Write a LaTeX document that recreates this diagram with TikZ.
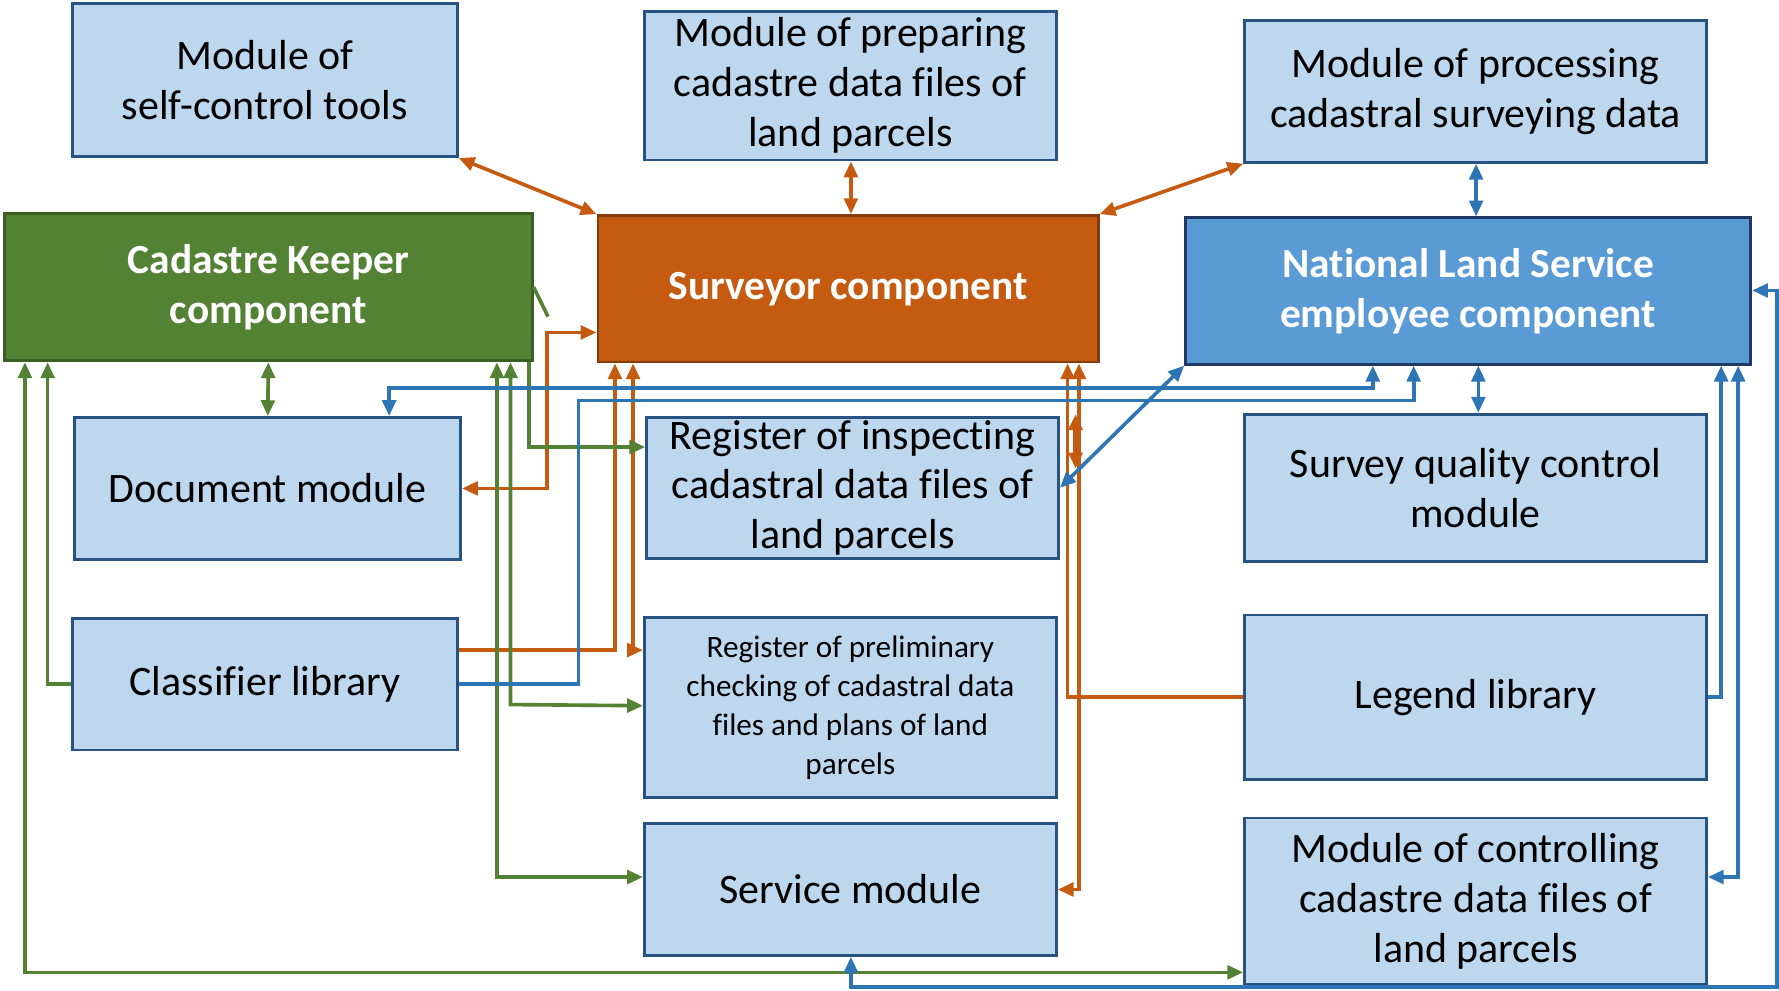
\documentclass[tikz,border=0pt]{standalone}
\usepackage{fontspec}
\setmainfont{Carlito}[Ligatures=NoCommon]
\usetikzlibrary{arrows.meta,calc}
\definecolor{lb}{HTML}{BDD7EE}
\definecolor{bdr}{RGB}{40,82,130}
\definecolor{gfill}{HTML}{548235}
\definecolor{gbdr}{HTML}{3B5E24}
\definecolor{ofill}{HTML}{C55A11}
\definecolor{obdr}{HTML}{843C0C}
\definecolor{nfill}{HTML}{5B9BD5}
\definecolor{nbdr}{HTML}{1F3864}
\definecolor{oline}{HTML}{C55A11}
\definecolor{gline}{HTML}{548235}
\definecolor{bline}{HTML}{2E75B6}
\begin{document}
\begin{tikzpicture}[x=1pt,y=-1pt,
  >={Triangle[length=14pt,width=12pt]},
  box/.style={draw=bdr,fill=lb,line width=2.5pt,align=center,inner sep=0pt,
    font=\fontsize{37}{44}\selectfont},
  comp/.style={line width=2.5pt,align=center,inner sep=0pt,text=white,
    font=\bfseries\fontsize{36.5}{44}\selectfont},
  oc/.style={draw=oline,line width=3.2pt},
  gc/.style={draw=gline,line width=3.2pt},
  bc/.style={draw=bline,line width=3.2pt}]
\useasboundingbox (0,0) rectangle (1568,873);
% boxes
\node[box,minimum width=339pt,minimum height=135pt] (sc) at (233.5,70.5) {Module of\\self-control tools};
\node[box,minimum width=363pt,minimum height=131pt] (prep) at (749.5,75.5) {Module of preparing\\cadastre data files of\\land parcels};
\node[box,minimum width=407pt,minimum height=125pt] (proc) at (1300.5,80.5) {Module of processing\\cadastral surveying data};
\node[comp,draw=gbdr,fill=gfill,minimum width=465pt,minimum height=130pt] (ck) at (236.5,253) {Cadastre Keeper\\component};
\node[comp,draw=obdr,fill=ofill,minimum width=441pt,minimum height=129pt] (sv) at (747.5,254.5) {Surveyor component};
\node[comp,draw=nbdr,fill=nfill,minimum width=498pt,minimum height=129pt] (nls) at (1294,256.5) {National Land Service\\employee component};
\node[box,minimum width=340pt,minimum height=125pt] (doc) at (236,430.5) {Document module};
\node[box,minimum width=363pt,minimum height=124pt] (insp) at (751.5,430) {Register of inspecting\\cadastral data files of\\land parcels};
\node[box,minimum width=407pt,minimum height=130pt] (sqc) at (1300.5,430) {Survey quality control\\module};
\node[box,minimum width=339pt,minimum height=116pt] (cls) at (233.5,603) {Classifier library};
\node[box,minimum width=363pt,minimum height=159pt,font=\fontsize{27.5}{34.5}\selectfont] (pre) at (749.5,623.5) {Register of preliminary\\checking of cadastral data\\files and plans of land\\parcels};
\node[box,minimum width=407pt,minimum height=145pt] (leg) at (1300.5,614.5) {Legend library};
\node[box,minimum width=363pt,minimum height=116pt] (svc) at (749.5,784) {Service module};
\node[box,minimum width=407pt,minimum height=147pt] (ctl) at (1300.5,794.5) {Module of controlling\\cadastre data files of\\land parcels};
% orange connectors
\draw[oc,<->] (sc.south east) -- (sv.north west);
\draw[oc,<->] (750,0 |- prep.south) -- (750,0 |- sv.north);
\draw[oc,<->] (proc.south west) -- (sv.north east);
\draw[oc,<->] (doc.east) -- (482,430.5) -- (482,293) -- (sv.west |- 0,293);
\draw[oc,->] (cls.east |- 0,573) -- (542,573) -- (542,0 |- sv.south);
\draw[oc,<->] (558,0 |- sv.south) -- (558,573) -- (pre.west |- 0,573);
\draw[oc,->] (leg.west) -- (941,614.5) -- (941,0 |- sv.south);
\draw[oc,<->] (951,0 |- sv.south) -- (951,784) -- (svc.east);
\coordinate (da) at (948,365);
\coordinate (db) at (948,413);
\draw[oc,<->,line width=4pt] (da) -- (db);
% green connectors
\coordinate (gt) at (483,279);
\draw[gc] (ck.east |- 0,253) -- (gt);
\draw[gc,<->] (ck.south) -- (doc.north);
\draw[gc,->] (466,0 |- ck.south) -- (466,394) -- (insp.west |- 0,394);
\draw[gc,<->] (450,0 |- ck.south) -- (450,621) -- (pre.west |- 0,622);
\draw[gc,<->] (438,0 |- ck.south) -- (438,773) -- (svc.west |- 0,773);
\draw[gc,->] (cls.west) -- (42,603) -- (42,0 |- ck.south);
\draw[gc,<->] (22,0 |- ck.south) -- (22,857) -- (ctl.west |- 0,857);
% blue connectors
\draw[bc,<->] (1301,0 |- proc.south) -- (1301,0 |- nls.north);
\draw[bc,<->] (1303,0 |- nls.south) -- (1303,0 |- sqc.north);
\draw[bc,<->] (nls.south west) -- (insp.east);
\draw[bc,<->] (1210,0 |- nls.south) -- (1210,342) -- (343,342) -- (343,0 |- doc.north);
\draw[bc,->] (cls.east |- 0,603) -- (510,603) -- (510,353) -- (1246,353) -- (1246,0 |- nls.south);
\draw[bc,->] (leg.east) -- (1517,614.5) -- (1517,0 |- nls.south);
\draw[bc,<->] (1532,0 |- nls.south) -- (1532,773) -- (ctl.east |- 0,773);
\draw[bc,<->] (nls.east |- 0,256) -- (1566,256) -- (1566,870) -- (750,870) -- (750,0 |- svc.south);
\end{tikzpicture}
\end{document}
